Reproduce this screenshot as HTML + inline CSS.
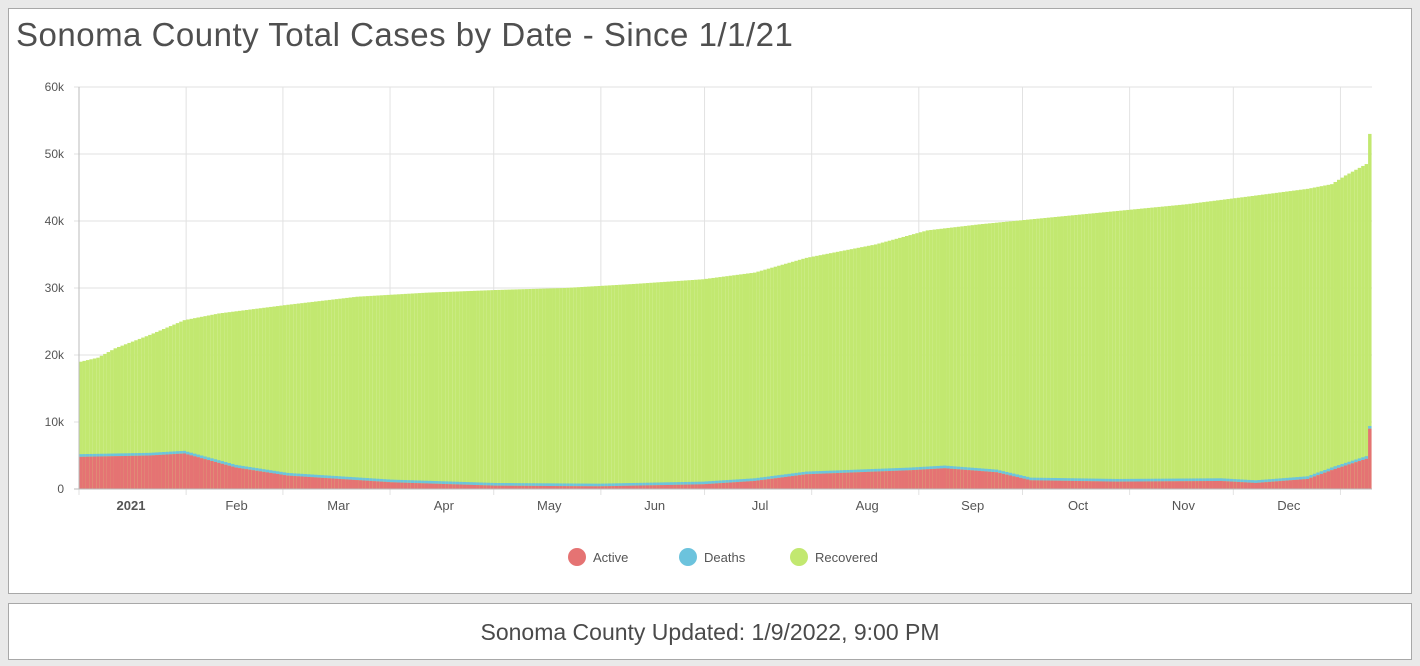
<!DOCTYPE html>
<html><head><meta charset="utf-8"><style>
body{margin:0;width:1420px;height:666px;background:#e9e9e9;font-family:"Liberation Sans",sans-serif;overflow:hidden;position:relative}
.p{position:absolute;background:#fff;border:1px solid #a8a8a8;box-sizing:border-box}
</style></head><body>
<div class="p" style="left:8px;top:8px;width:1404px;height:586px"></div>
<div class="p" style="left:8px;top:603px;width:1404px;height:57px"></div>
<div style="position:absolute;left:16px;top:16px;font-size:33px;color:#4f4f4f;letter-spacing:0.5px">Sonoma County Total Cases by Date - Since 1/1/21</div>
<div style="position:absolute;left:0;width:1420px;top:619px;text-align:center;font-size:23px;color:#4a4a4a">Sonoma County Updated: 1/9/2022, 9:00 PM</div>
<svg id="s" width="1420" height="666" style="position:absolute;left:0;top:0" font-family="Liberation Sans, sans-serif"></svg>
<script>
var s=document.getElementById('s'),h='';
var X0=79,Y0=489,K=6.7,D=3.456;
for(var i=0;i<=6;i++){var y=Y0-i*10*K;h+='<line x1="74" x2="1372" y1="'+y+'" y2="'+y+'" stroke="#e2e2e2"/>';h+='<text x="64" y="'+(y+4)+'" font-size="12" fill="#555" text-anchor="end">'+(i?i*10+'k':'0')+'</text>';}
var md=[0,31,59,90,120,151,181,212,243,273,304,334,365],mn=['2021','Feb','Mar','Apr','May','Jun','Jul','Aug','Sep','Oct','Nov','Dec'];
md.forEach(function(d,j){var x=X0+d*D;h+='<line x1="'+x+'" x2="'+x+'" y1="87" y2="495" stroke="#e2e2e2"/>';
if(j<12){var cx=X0+(d+(md[j+1]-d)/2)*D+2;h+='<text x="'+(j==0?131:cx)+'" y="510" font-size="13" fill="#555" text-anchor="middle"'+(j==0?' font-weight="bold"':'')+'>'+mn[j]+'</text>';}});
function ip(p,d){for(var i=1;i<p.length;i++)if(d<=p[i][0]){var a=p[i-1],b=p[i];return a[1]+(b[1]-a[1])*(d-a[0])/(b[0]-a[0]);}return p[p.length-1][1];}
var T=[[0,19],[5,19.6],[10,21],[20,23],[30,25.2],[40,26.2],[60,27.5],[80,28.7],[100,29.3],[120,29.7],[140,30],[160,30.6],[180,31.3],[195,32.3],[210,34.5],[230,36.5],[245,38.6],[260,39.5],[280,40.5],[300,41.5],[320,42.5],[337,43.6],[355,44.8],[362,45.5],[366,46.8],[372,48.5],[372.5,53],[374,53]];
var A=[[0,4.8],[20,5],[30,5.3],[35,4.6],[45,3.2],[60,2],[90,1],[120,0.5],[150,0.4],[180,0.7],[195,1.2],[210,2.2],[240,2.8],[250,3.1],[265,2.5],[275,1.3],[300,1.1],[330,1.2],[340,0.9],[355,1.5],[363,3],[372,4.5],[372.5,9],[374,9]];
for(var d=0;d<374;d++){var x=X0+d*D,t=ip(T,d),a=ip(A,d);
h+='<rect x="'+x+'" y="'+(Y0-t*K)+'" width="'+D+'" height="'+t*K+'" fill="#c2e870"/>';
h+='<rect x="'+x+'" y="'+(Y0-(a+0.4)*K)+'" width="'+D+'" height="'+0.4*K+'" fill="#6cc3dd"/>';
h+='<rect x="'+x+'" y="'+(Y0-a*K)+'" width="'+D+'" height="'+a*K+'" fill="#e57373"/>';}
h+='<line x1="79" x2="79" y1="87" y2="489" stroke="#bbb"/><line x1="74" x2="1372" y1="489" y2="489" stroke="#bbb"/>';
[['Active','#e57373',577],['Deaths','#6cc3dd',688],['Recovered','#c2e870',799]].forEach(function(l){h+='<circle cx="'+l[2]+'" cy="557" r="9" fill="'+l[1]+'"/><text x="'+(l[2]+16)+'" y="562" font-size="13" fill="#555">'+l[0]+'</text>';});
s.innerHTML=h;
</script>
</body></html>
